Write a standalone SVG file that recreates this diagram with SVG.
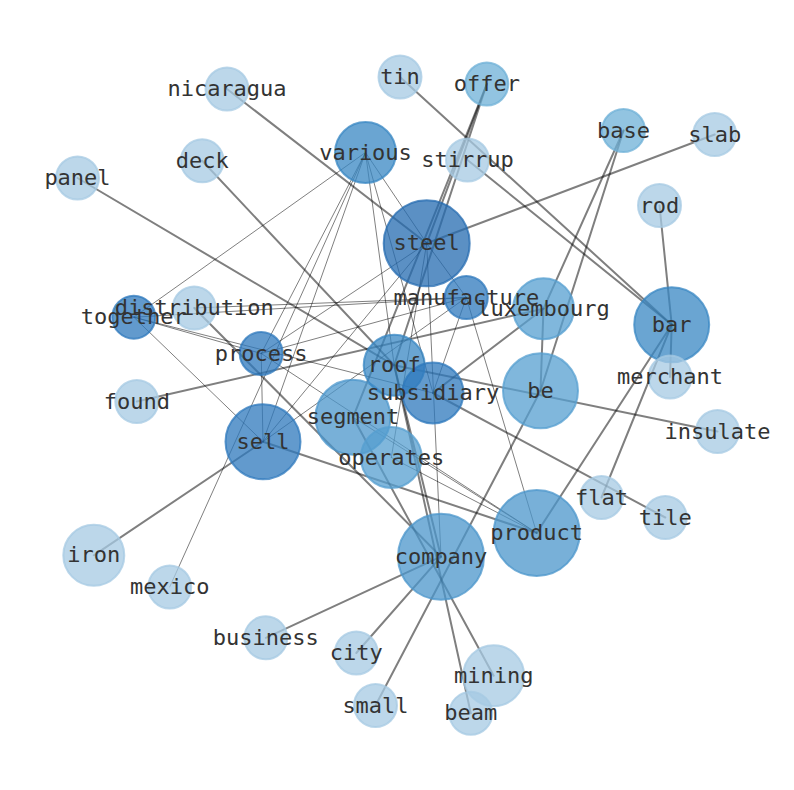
<svg xmlns="http://www.w3.org/2000/svg" width="794" height="790" viewBox="0 0 794 790">
<style>
.e{stroke:#000;stroke-opacity:0.5;fill:none;stroke-linecap:round}
.w{stroke-width:2}
.t{stroke-width:1}
circle{stroke-width:2;fill-opacity:0.75;stroke-opacity:0.75}
.c1{fill:#246bb0;stroke:#246bb0}
.c2{fill:#2d78bc;stroke:#2d78bc}
.c3{fill:#3887c3;stroke:#3887c3}
.c4{fill:#4b96cb;stroke:#4b96cb}
.c5{fill:#559fd0;stroke:#559fd0}
.c6{fill:#6eb0d7;stroke:#6eb0d7}
.c7{fill:#a6cae3;stroke:#a6cae3}
text{font-family:"DejaVu Sans Mono","Liberation Mono",monospace;font-size:22px;fill:#333;text-anchor:middle}
</style>
<rect width="794" height="790" fill="#fff"/>
<g id="edges">
<line class="e w" x1="227" y1="89" x2="426.7" y2="243.3"/>
<line class="e w" x1="400" y1="77" x2="671.7" y2="324.7"/>
<line class="e w" x1="467.5" y1="160" x2="671.7" y2="324.7"/>
<line class="e w" x1="486.8" y1="84" x2="426.7" y2="243.3"/>
<line class="e w" x1="486.8" y1="84" x2="394.2" y2="365.3"/>
<line class="e w" x1="486.8" y1="84" x2="353" y2="417.3"/>
<line class="e w" x1="623.5" y1="130.5" x2="543.5" y2="308.7"/>
<line class="e w" x1="623.5" y1="130.5" x2="540.5" y2="390.8"/>
<line class="e w" x1="714.7" y1="134.5" x2="426.7" y2="243.3"/>
<line class="e w" x1="659.5" y1="205.5" x2="671.7" y2="324.7"/>
<line class="e w" x1="671.7" y1="324.7" x2="670" y2="377"/>
<line class="e w" x1="671.7" y1="324.7" x2="601.5" y2="497.5"/>
<line class="e w" x1="671.7" y1="324.7" x2="536.7" y2="533"/>
<line class="e w" x1="77.5" y1="178" x2="394.2" y2="365.3"/>
<line class="e w" x1="202.2" y1="160.8" x2="394.2" y2="365.3"/>
<line class="e w" x1="136.8" y1="401.5" x2="543.5" y2="308.7"/>
<line class="e w" x1="194.2" y1="308" x2="441" y2="556.7"/>
<line class="e w" x1="93.8" y1="555.3" x2="263" y2="441.7"/>
<line class="e w" x1="263" y1="441.7" x2="536.7" y2="533"/>
<line class="e w" x1="441" y1="556.7" x2="265.8" y2="637.8"/>
<line class="e w" x1="441" y1="556.7" x2="356.3" y2="653"/>
<line class="e w" x1="375.5" y1="705.5" x2="540.5" y2="390.8"/>
<line class="e w" x1="353" y1="417.3" x2="493.7" y2="675.7"/>
<line class="e w" x1="470.8" y1="713.3" x2="394.2" y2="365.3"/>
<line class="e w" x1="543.5" y1="308.7" x2="433" y2="393"/>
<line class="e w" x1="543.5" y1="308.7" x2="540.5" y2="390.8"/>
<line class="e w" x1="394.2" y1="365.3" x2="717.5" y2="431.5"/>
<line class="e w" x1="433" y1="393" x2="665.3" y2="517.5"/>
<line class="e w" x1="394.2" y1="365.3" x2="441" y2="556.7"/>
<line class="e t" x1="365.5" y1="152.5" x2="133.8" y2="317.2"/>
<line class="e t" x1="365.5" y1="152.5" x2="261.2" y2="353.5"/>
<line class="e t" x1="365.5" y1="152.5" x2="263" y2="441.7"/>
<line class="e t" x1="365.5" y1="152.5" x2="169.7" y2="587"/>
<line class="e t" x1="365.5" y1="152.5" x2="426.7" y2="243.3"/>
<line class="e t" x1="365.5" y1="152.5" x2="394.2" y2="365.3"/>
<line class="e t" x1="365.5" y1="152.5" x2="433" y2="393"/>
<line class="e t" x1="426.7" y1="243.3" x2="261.2" y2="353.5"/>
<line class="e t" x1="426.7" y1="243.3" x2="263" y2="441.7"/>
<line class="e t" x1="426.7" y1="243.3" x2="391.3" y2="457.5"/>
<line class="e t" x1="426.7" y1="243.3" x2="441" y2="556.7"/>
<line class="e t" x1="426.7" y1="243.3" x2="466.3" y2="297.5"/>
<line class="e t" x1="466.3" y1="297.5" x2="133.8" y2="317.2"/>
<line class="e t" x1="466.3" y1="297.5" x2="194.2" y2="308"/>
<line class="e t" x1="466.3" y1="297.5" x2="261.2" y2="353.5"/>
<line class="e t" x1="466.3" y1="297.5" x2="536.7" y2="533"/>
<line class="e t" x1="466.3" y1="297.5" x2="433" y2="393"/>
<line class="e t" x1="466.3" y1="297.5" x2="263" y2="441.7"/>
<line class="e t" x1="133.8" y1="317.2" x2="261.2" y2="353.5"/>
<line class="e t" x1="133.8" y1="317.2" x2="433" y2="393"/>
<line class="e t" x1="133.8" y1="317.2" x2="263" y2="441.7"/>
<line class="e t" x1="261.2" y1="353.5" x2="263" y2="441.7"/>
<line class="e t" x1="353" y1="417.3" x2="536.7" y2="533"/>
<line class="e t" x1="391.3" y1="457.5" x2="536.7" y2="533"/>
<line class="e t" x1="261.2" y1="353.5" x2="536.7" y2="533"/>
</g>
<g id="nodes">
<g id="n-nicaragua"><circle class="c7" cx="227" cy="89" r="21.5"/></g>
<g id="n-tin"><circle class="c7" cx="400" cy="77" r="21.5"/></g>
<g id="n-offer"><circle class="c6" cx="486.8" cy="84" r="21.5"/></g>
<g id="n-base"><circle class="c6" cx="623.5" cy="130.5" r="21.5"/></g>
<g id="n-slab"><circle class="c7" cx="714.7" cy="134.5" r="21.5"/></g>
<g id="n-rod"><circle class="c7" cx="659.5" cy="205.5" r="21.5"/></g>
<g id="n-panel"><circle class="c7" cx="77.5" cy="178" r="21.5"/></g>
<g id="n-deck"><circle class="c7" cx="202.2" cy="160.8" r="21.5"/></g>
<g id="n-stirrup"><circle class="c7" cx="467.5" cy="160" r="21.5"/></g>
<g id="n-various"><circle class="c3" cx="365.5" cy="152.5" r="30.5"/></g>
<g id="n-steel"><circle class="c1" cx="426.7" cy="243.3" r="43"/></g>
<g id="n-distribution"><circle class="c7" cx="194.2" cy="308" r="21.5"/></g>
<g id="n-together"><circle class="c2" cx="133.8" cy="317.2" r="21.5"/></g>
<g id="n-manufacture"><circle class="c2" cx="466.3" cy="297.5" r="21.5"/></g>
<g id="n-luxembourg"><circle class="c5" cx="543.5" cy="308.7" r="30.5"/></g>
<g id="n-bar"><circle class="c3" cx="671.7" cy="324.7" r="37.5"/></g>
<g id="n-merchant"><circle class="c7" cx="670" cy="377" r="21.5"/></g>
<g id="n-process"><circle class="c2" cx="261.2" cy="353.5" r="21.5"/></g>
<g id="n-found"><circle class="c7" cx="136.8" cy="401.5" r="21.5"/></g>
<g id="n-be"><circle class="c5" cx="540.5" cy="390.8" r="37.5"/></g>
<g id="n-insulate"><circle class="c7" cx="717.5" cy="431.5" r="21.5"/></g>
<g id="n-sell"><circle class="c2" cx="263" cy="441.7" r="37.5"/></g>
<g id="n-segment"><circle class="c4" cx="353" cy="417.3" r="37.5"/></g>
<g id="n-operates"><circle class="c5" cx="391.3" cy="457.5" r="30.5"/></g>
<g id="n-roof"><circle class="c3" cx="394.2" cy="365.3" r="30.5"/></g>
<g id="n-subsidiary"><circle class="c2" cx="433" cy="393" r="30.5"/></g>
<g id="n-flat"><circle class="c7" cx="601.5" cy="497.5" r="21.5"/></g>
<g id="n-tile"><circle class="c7" cx="665.3" cy="517.5" r="21.5"/></g>
<g id="n-product"><circle class="c4" cx="536.7" cy="533" r="43"/></g>
<g id="n-company"><circle class="c4" cx="441" cy="556.7" r="43"/></g>
<g id="n-iron"><circle class="c7" cx="93.8" cy="555.3" r="30.5"/></g>
<g id="n-mexico"><circle class="c7" cx="169.7" cy="587" r="21.5"/></g>
<g id="n-business"><circle class="c7" cx="265.8" cy="637.8" r="21.5"/></g>
<g id="n-city"><circle class="c7" cx="356.3" cy="653" r="21.5"/></g>
<g id="n-mining"><circle class="c7" cx="493.7" cy="675.7" r="30.5"/></g>
<g id="n-small"><circle class="c7" cx="375.5" cy="705.5" r="21.5"/></g>
<g id="n-beam"><circle class="c7" cx="470.8" cy="713.3" r="21.5"/></g>
</g>
<g id="labels">
<text x="227" y="96">nicaragua</text>
<text x="400" y="84">tin</text>
<text x="486.8" y="91">offer</text>
<text x="623.5" y="137.5">base</text>
<text x="714.7" y="141.5">slab</text>
<text x="659.5" y="212.5">rod</text>
<text x="77.5" y="185">panel</text>
<text x="202.2" y="167.8">deck</text>
<text x="467.5" y="167">stirrup</text>
<text x="365.5" y="159.5">various</text>
<text x="426.7" y="250.3">steel</text>
<text x="194.2" y="315">distribution</text>
<text x="133.8" y="324.2">together</text>
<text x="466.3" y="304.5">manufacture</text>
<text x="543.5" y="315.7">luxembourg</text>
<text x="671.7" y="331.7">bar</text>
<text x="670" y="384">merchant</text>
<text x="261.2" y="360.5">process</text>
<text x="136.8" y="408.5">found</text>
<text x="540.5" y="397.8">be</text>
<text x="717.5" y="438.5">insulate</text>
<text x="263" y="448.7">sell</text>
<text x="353" y="424.3">segment</text>
<text x="391.3" y="464.5">operates</text>
<text x="394.2" y="372.3">roof</text>
<text x="433" y="400">subsidiary</text>
<text x="601.5" y="504.5">flat</text>
<text x="665.3" y="524.5">tile</text>
<text x="536.7" y="540">product</text>
<text x="441" y="563.7">company</text>
<text x="93.8" y="562.3">iron</text>
<text x="169.7" y="594">mexico</text>
<text x="265.8" y="644.8">business</text>
<text x="356.3" y="660">city</text>
<text x="493.7" y="682.7">mining</text>
<text x="375.5" y="712.5">small</text>
<text x="470.8" y="720.3">beam</text>
</g>
</svg>
